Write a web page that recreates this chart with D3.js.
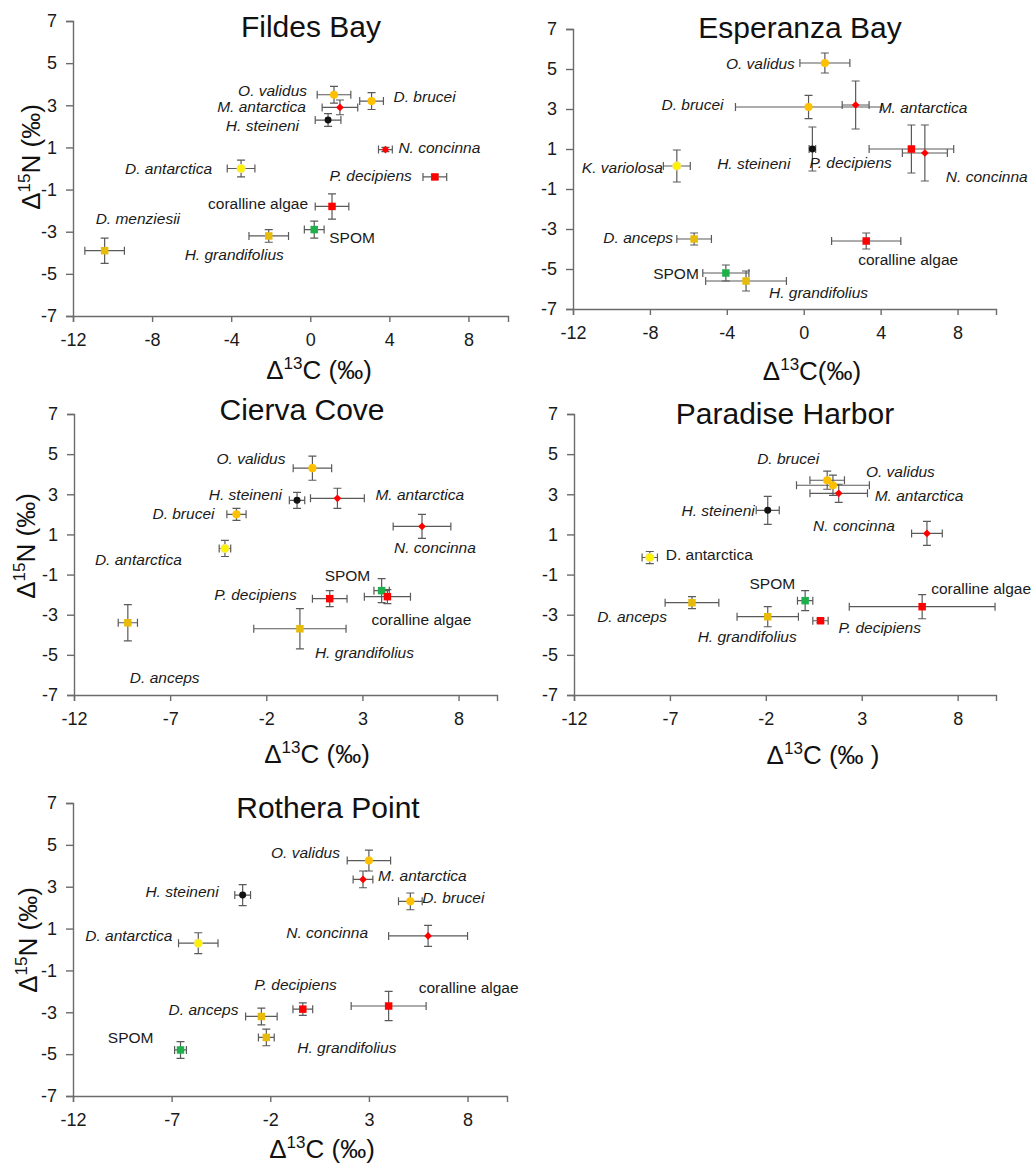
<!DOCTYPE html>
<html>
<head>
<meta charset="utf-8">
<script src="https://cdn.jsdelivr.net/npm/d3@7"></script>
<style>
  body { margin: 0; background: #fff; }
  text { font-family: "Liberation Sans", Arial, sans-serif; }
</style>
</head>
<body>
<script>
// mean ± sd of Δ13C and Δ15N
var fildesTaxa = ['O. validus', 'D. brucei', 'M. antarctica', 'H. steineni', 'N. concinna', 'D. antarctica',
                  'P. decipiens', 'coralline algae', 'SPOM', 'H. grandifolius', 'D. menziesii'];
var fildesC   = [1.2, 3.1, 1.5, 0.9, 3.8, -3.5, 6.3, 1.1, 0.2, -2.1, -10.4];
var fildesCsd = [0.85, 0.6, 0.9, 0.65, 0.35, 0.7, 0.6, 0.85, 0.5, 1.0, 1.0];
var fildesN   = [3.5, 3.2, 2.9, 2.3, 0.9, 0.0, -0.4, -1.8, -2.9, -3.2, -3.9];
var fildesNsd = [0.4, 0.4, 0.35, 0.3, 0.1, 0.4, 0.1, 0.6, 0.4, 0.3, 0.6];

var esperanzaTaxa = ['O. validus', 'D. brucei', 'M. antarctica', 'H. steineni', 'P. decipiens', 'N. concinna',
                     'K. variolosa', 'D. anceps', 'coralline algae', 'SPOM', 'H. grandifolius'];
var esperanzaC   = [1.1, 0.25, 2.7, 0.45, 5.6, 6.3, -6.6, -5.7, 3.25, -4.05, -3.0];
var esperanzaCsd = [1.3, 3.8, 0.7, 0.17, 2.2, 1.17, 0.7, 0.9, 1.8, 1.2, 2.1];
var esperanzaN   = [5.3, 3.1, 3.2, 1.0, 1.0, 0.8, 0.15, -3.5, -3.6, -5.2, -5.6];
var esperanzaNsd = [0.5, 0.58, 1.2, 1.1, 1.2, 1.4, 0.8, 0.3, 0.4, 0.4, 0.5];

var ciervaTaxa = ['O. validus', 'H. steineni', 'M. antarctica', 'D. brucei', 'N. concinna', 'D. antarctica',
                  'SPOM', 'coralline algae', 'P. decipiens', 'H. grandifolius', 'D. anceps'];
var ciervaC   = [0.4, -0.4, 1.7, -3.55, 6.1, -4.15, 4.0, 4.3, 1.3, -0.25, -9.2];
var ciervaCsd = [1.0, 0.4, 1.4, 0.5, 1.5, 0.3, 0.4, 1.2, 0.9, 2.4, 0.5];
var ciervaN   = [4.3, 2.7, 2.8, 2.0, 1.4, 0.3, -1.8, -2.1, -2.2, -3.7, -3.4];
var ciervaNsd = [0.6, 0.4, 0.5, 0.3, 0.6, 0.4, 0.6, 0.35, 0.4, 1.0, 0.9];

var paradiseTaxa = ['D. brucei', 'O. validus', 'M. antarctica', 'H. steineni', 'N. concinna', 'D. antarctica',
                    'SPOM', 'coralline algae', 'D. anceps', 'H. grandifolius', 'P. decipiens'];
var paradiseC   = [1.2, 1.5, 1.8, -1.9, 6.4, -8.05, 0.05, 6.15, -5.85, -1.9, 0.85];
var paradiseCsd = [0.9, 1.9, 1.5, 0.6, 0.8, 0.4, 0.4, 3.8, 1.4, 1.6, 0.4];
var paradiseN   = [3.7, 3.45, 3.05, 2.2, 1.05, -0.15, -2.3, -2.6, -2.4, -3.1, -3.3];
var paradiseNsd = [0.45, 0.5, 0.45, 0.7, 0.6, 0.3, 0.5, 0.6, 0.3, 0.5, 0.1];

var rotheraTaxa = ['O. validus', 'M. antarctica', 'H. steineni', 'D. brucei', 'N. concinna', 'D. antarctica',
                   'P. decipiens', 'coralline algae', 'D. anceps', 'H. grandifolius', 'SPOM'];
var rotheraC   = [3.0, 2.7, -3.4, 5.1, 6.0, -5.65, -0.35, 4.0, -2.45, -2.2, -6.55];
var rotheraCsd = [1.1, 0.5, 0.4, 0.6, 2.0, 1.0, 0.5, 1.9, 0.8, 0.4, 0.3];
var rotheraN   = [4.25, 3.35, 2.6, 2.3, 0.65, 0.3, -2.85, -2.7, -3.2, -4.2, -4.8];
var rotheraNsd = [0.5, 0.4, 0.5, 0.4, 0.5, 0.5, 0.3, 0.7, 0.4, 0.4, 0.4];

var xTicksA = [-12, -8, -4, 0, 4, 8];
var xTicksB = [-12, -7, -2, 3, 8];
var yTicks  = [7, 5, 3, 1, -1, -3, -5, -7];

// label placement: [dx, dy, anchor] in px from the point
var fildesLabels = [[-27,1,'end'],[22,1,'start'],[-34,5,'end'],[-29,11,'end'],[13,3,'start'],[-29,5,'end'],
                    [-23,4,'end'],[-24,3,'end'],[15,13,'start'],[15,24,'end'],[-9,-27,'start']];
var esperanzaLabels = [[-30,6,'end'],[-85,3,'end'],[23,8,'start'],[-22,20,'end'],[-102,19,'start'],[21,29,'start'],
                       [-14,7,'end'],[-21,4,'end'],[-8,24,'start'],[-27,6,'end'],[23,17,'start']];
var ciervaLabels = [[-27,-4,'end'],[-15,0,'end'],[38,2,'start'],[-22,5,'end'],[-28,27,'start'],[-130,17,'start'],
                    [-57,-10,'start'],[-16,28,'start'],[-33,1,'end'],[15,29,'start'],[2,60,'start']];
var paradiseLabels = [[-8,-16,'end'],[33,-8,'start'],[36,8,'start'],[-13,6,'end'],[-32,-2,'end'],[16,2,'start'],
                      [-10,-12,'end'],[9,-13,'start'],[-25,19,'end'],[29,25,'end'],[18,12,'start']];
var rotheraLabels = [[-29,-3,'end'],[15,2,'start'],[-24,2,'end'],[12,2,'start'],[-60,2,'end'],[-26,-2,'end'],
                     [34,-19,'end'],[30,-13,'start'],[-23,-1,'end'],[31,16,'start'],[-27,-7,'end']];

var ORANGE = '#ffc000', RED = '#ff0000', GOLD = '#e6bb0a', YELLOW = '#fff200', GREEN = '#1fb04b', BLACK = '#111';
var markerStyle = {
    'O. validus':      { shape: 'circle',  fill: ORANGE },
    'D. brucei':       { shape: 'circle',  fill: ORANGE },
    'M. antarctica':   { shape: 'diamond', fill: RED },
    'N. concinna':     { shape: 'diamond', fill: RED },
    'H. steineni':     { shape: 'circle',  fill: BLACK, small: true },
    'D. antarctica':   { shape: 'circle',  fill: YELLOW },
    'K. variolosa':    { shape: 'circle',  fill: YELLOW },
    'P. decipiens':    { shape: 'square',  fill: RED },
    'coralline algae': { shape: 'square',  fill: RED },
    'SPOM':            { shape: 'square',  fill: GREEN },
    'H. grandifolius': { shape: 'square',  fill: GOLD },
    'D. menziesii':    { shape: 'square',  fill: GOLD },
    'D. anceps':       { shape: 'square',  fill: GOLD }
};
var uprightLabels = ['coralline algae', 'SPOM'];

var panels = [
    { title: 'Fildes Bay', taxa: fildesTaxa, c: fildesC, cSd: fildesCsd, n: fildesN, nSd: fildesNsd,
      labels: fildesLabels, box: [73, 508, 21, 316], xTicks: xTicksA,
      titleAt: [311, 37], yLabAt: [40, 157], xLabAt: [319, 379], xTail: ' (‰)' },
    { title: 'Esperanza Bay', taxa: esperanzaTaxa, c: esperanzaC, cSd: esperanzaCsd, n: esperanzaN, nSd: esperanzaNsd,
      labels: esperanzaLabels, box: [573, 996, 29, 309], xTicks: xTicksA,
      titleAt: [800, 38], yLabAt: [536, 158], xLabAt: [812, 380], xTail: '(‰)', clip: true },
    { title: 'Cierva Cove', taxa: ciervaTaxa, c: ciervaC, cSd: ciervaCsd, n: ciervaN, nSd: ciervaNsd,
      labels: ciervaLabels, box: [74, 497, 414, 695], xTicks: xTicksB,
      titleAt: [302, 420], yLabAt: [35, 546], xLabAt: [317, 763], xTail: ' (‰)' },
    { title: 'Paradise Harbor', taxa: paradiseTaxa, c: paradiseC, cSd: paradiseCsd, n: paradiseN, nSd: paradiseNsd,
      labels: paradiseLabels, box: [574, 996, 414, 695], xTicks: xTicksB,
      titleAt: [785, 424], yLabAt: [538, 541], xLabAt: [823, 764], xTail: ' (‰ )', clip: true,
      upright: ['D. antarctica'] },
    { title: 'Rothera Point', taxa: rotheraTaxa, c: rotheraC, cSd: rotheraCsd, n: rotheraN, nSd: rotheraNsd,
      labels: rotheraLabels, box: [73, 507, 803, 1096], xTicks: xTicksB,
      titleAt: [328, 818], yLabAt: [37, 940], xLabAt: [322, 1158], xTail: ' (‰)' }
];

var svg = d3.select('body').append('svg')
    .attr('width', 1032)
    .attr('height', 1165);

svg.append('defs').append('clipPath')
    .attr('id', 'rightCol')
  .append('rect')
    .attr('x', 519).attr('y', 0).attr('width', 520).attr('height', 1165);

var AXIS = '#6b6b6b', BAR = '#5a5a5a';

function drawPanel(p){
    var x = d3.scaleLinear().domain([-12, 10]).range([p.box[0], p.box[1]]),
        y = d3.scaleLinear().domain([-7, 7]).range([p.box[3], p.box[2]]),
        g = svg.append('g');

    var xa = g.append('g')
        .attr('transform', 'translate(0,' + p.box[3] + ')')
        .call(d3.axisBottom(x).tickValues(p.xTicks).tickSizeOuter(0).tickSize(6).tickPadding(11)
            .tickFormat(d3.format('d')));
    var ya = g.append('g')
        .attr('transform', 'translate(' + p.box[0] + ',0)')
        .call(d3.axisLeft(y).tickValues(yTicks).tickSizeOuter(0).tickSize(7).tickPadding(9)
            .tickFormat(d3.format('d')));
    [xa, ya].forEach(function(a){
        a.select('.domain').attr('stroke', AXIS).attr('stroke-width', 1.4);
        a.selectAll('.tick line').attr('stroke', AXIS).attr('stroke-width', 1.4);
        a.selectAll('.tick text')
            .attr('fill', '#1a1a1a')
            .style('font-size', '18px')
            .style('font-family', '"Liberation Sans", Arial, sans-serif')
            .text(function(d){ return d < 0 ? '-' + Math.abs(d) : d; });
    });

    g.append('text')
        .attr('x', p.titleAt[0]).attr('y', p.titleAt[1])
        .attr('text-anchor', 'middle')
        .style('font-size', '30px')
        .attr('fill', '#111')
        .text(p.title);

    // axis titles with superscripts
    var yl = g.append('text')
        .attr('transform', 'translate(' + p.yLabAt[0] + ',' + p.yLabAt[1] + ') rotate(-90)')
        .attr('text-anchor', 'middle')
        .style('font-size', '26px')
        .attr('fill', '#111');
    if( p.clip ){ yl.attr('clip-path', 'url(#rightCol)'); }
    yl.append('tspan').text('Δ');
    yl.append('tspan').attr('dy', -10).style('font-size', '17px').text('15');
    yl.append('tspan').attr('dy', 10).text('N (‰)');

    var xl = g.append('text')
        .attr('x', p.xLabAt[0]).attr('y', p.xLabAt[1])
        .attr('text-anchor', 'middle')
        .style('font-size', '26px')
        .attr('fill', '#111');
    xl.append('tspan').text('Δ');
    xl.append('tspan').attr('dy', -10).style('font-size', '17px').text('13');
    xl.append('tspan').attr('dy', 10).text('C' + p.xTail);

    var rows = p.taxa.map(function(t, i){
        return { taxon: t, c: p.c[i], cSd: p.cSd[i], n: p.n[i], nSd: p.nSd[i], lab: p.labels[i] };
    });

    // error bars
    var cap = 4;
    var bars = g.append('g')
        .attr('stroke', BAR)
        .attr('stroke-width', 1.2)
        .attr('fill', 'none');
    rows.forEach(function(d){
        var cx = x(d.c), cy = y(d.n),
            x0 = x(d.c - d.cSd), x1 = x(d.c + d.cSd),
            y0 = y(d.n - d.nSd), y1 = y(d.n + d.nSd);
        bars.append('path').attr('d',
            'M' + x0 + ',' + cy + 'H' + x1 +
            'M' + x0 + ',' + (cy - cap) + 'V' + (cy + cap) +
            'M' + x1 + ',' + (cy - cap) + 'V' + (cy + cap) +
            'M' + cx + ',' + y0 + 'V' + y1 +
            'M' + (cx - cap) + ',' + y0 + 'H' + (cx + cap) +
            'M' + (cx - cap) + ',' + y1 + 'H' + (cx + cap));
    });

    // markers
    g.append('g').selectAll('path.mk')
        .data(rows)
        .enter()
        .append('path')
        .attr('class', 'mk')
        .attr('d', function(d){
            var s = markerStyle[d.taxon];
            if( s.shape === 'square' ){ return d3.symbol(d3.symbolSquare, 56)(); }
            if( s.shape === 'diamond' ){ return d3.symbol(d3.symbolSquare, 30)(); }
            return d3.symbol(d3.symbolCircle, s.small ? 38 : 52)();
        })
        .attr('transform', function(d){
            var rot = markerStyle[d.taxon].shape === 'diamond' ? ' rotate(45)' : '';
            return 'translate(' + x(d.c) + ',' + y(d.n) + ')' + rot;
        })
        .attr('fill', function(d){ return markerStyle[d.taxon].fill; })
        .attr('stroke', function(d){ return markerStyle[d.taxon].fill === YELLOW ? '#f0e68c' : 'none'; })
        .attr('stroke-width', 1);

    // taxon labels
    var upright = uprightLabels.concat(p.upright || []);
    g.append('g').selectAll('text')
        .data(rows)
        .enter()
        .append('text')
        .attr('x', function(d){ return x(d.c) + d.lab[0]; })
        .attr('y', function(d){ return y(d.n) + d.lab[1]; })
        .attr('text-anchor', function(d){ return d.lab[2]; })
        .style('font-size', '15.5px')
        .style('font-style', function(d){ return upright.indexOf(d.taxon) >= 0 ? 'normal' : 'italic'; })
        .attr('fill', '#1a1a1a')
        .text(function(d){ return d.taxon; });
}

panels.forEach(drawPanel);
</script>
</body>
</html>
